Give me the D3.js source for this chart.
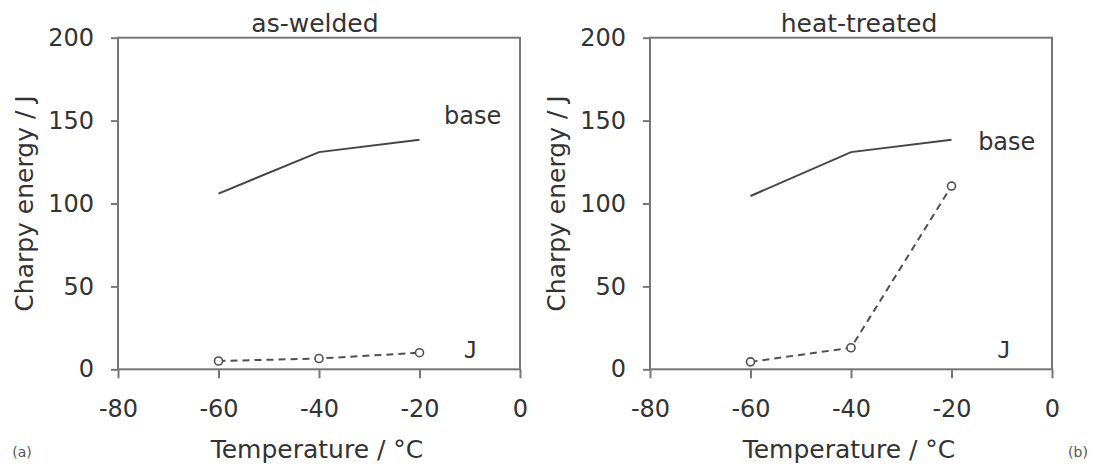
<!DOCTYPE html>
<html>
<head>
<meta charset="utf-8">
<script src="https://cdn.jsdelivr.net/npm/d3@7"></script>
<style>
  html, body { margin: 0; padding: 0; background: #fff; }
  svg { display: block; font-family: "DejaVu Sans", Verdana, sans-serif; }
</style>
</head>
<body>
<svg id="chart" width="1095" height="464"></svg>
<script>
// Charpy impact energy versus test temperature
const temperatures = [-60, -40, -20];
const baseAsWelded = [106, 131, 138.5];
const jAsWelded = [5, 6.5, 10];
const baseHeatTreated = [104.5, 131, 138.5];
const jHeatTreated = [4.5, 13, 110.5];

const xTickValues = [-80, -60, -40, -20, 0];
const yTickValues = [0, 50, 100, 150, 200];

const panelTitles = ["as-welded", "heat-treated"];
const panelTags = ["(a)", "(b)"];
const xAxisTitle = "Temperature / °C";
const yAxisTitle = "Charpy energy / J";
const seriesNames = ["base", "J"];

// layout of the two panels
const panels = [
  { left: 118, title: panelTitles[0], tag: panelTags[0], base: baseAsWelded, j: jAsWelded,
    titleX: 315, baseLabel: [-15.1, 148.2], jLabel: [-11.2, 6.8], tagX: 22 },
  { left: 650, title: panelTitles[1], tag: panelTags[1], base: baseHeatTreated, j: jHeatTreated,
    titleX: 859, baseLabel: [-14.7, 132.1], jLabel: [-10.9, 6.8], tagX: 1078 }
];
const plotTop = 37.7, plotBottom = 369.3, plotWidth = 402;

const textColor = "#333";
const frameColor = "#777";
const plainNumber = d => String(d);   // keeps an ASCII hyphen for negatives

const svg = d3.select("#chart");

panels.forEach(p => {
  const x = d3.scaleLinear().domain([-80, 0]).range([p.left, p.left + plotWidth]);
  const y = d3.scaleLinear().domain([0, 200]).range([plotBottom, plotTop]);
  const g = svg.append("g");

  // plot frame
  g.append("rect")
    .attr("x", p.left).attr("y", plotTop)
    .attr("width", plotWidth).attr("height", plotBottom - plotTop)
    .attr("fill", "none").attr("stroke", frameColor).attr("stroke-width", 2);

  // x axis
  const xa = g.append("g").attr("transform", `translate(0,${plotBottom})`)
    .call(d3.axisBottom(x).tickValues(xTickValues).tickSize(9).tickPadding(22)
      .tickFormat(plainNumber));
  xa.select(".domain").remove();
  xa.selectAll(".tick line").attr("stroke", frameColor).attr("stroke-width", 2);
  xa.selectAll(".tick text").attr("fill", textColor)
    .style("font-size", "24px").style("font-family", "DejaVu Sans, Verdana, sans-serif");

  // y axis
  const ya = g.append("g").attr("transform", `translate(${p.left},0)`)
    .call(d3.axisLeft(y).tickValues(yTickValues).tickSize(7).tickPadding(17)
      .tickFormat(plainNumber));
  ya.select(".domain").remove();
  ya.selectAll(".tick line").attr("stroke", frameColor).attr("stroke-width", 2);
  ya.selectAll(".tick text").attr("fill", textColor)
    .style("font-size", "24px").style("font-family", "DejaVu Sans, Verdana, sans-serif");

  const line = d3.line().x((d, i) => x(temperatures[i])).y(d => y(d));

  // base metal curve
  g.append("path").datum(p.base)
    .attr("d", line).attr("fill", "none")
    .attr("stroke", "#454545").attr("stroke-width", 2);

  // J curve, dashed with open circles
  g.append("path").datum(p.j)
    .attr("d", line).attr("fill", "none")
    .attr("stroke", "#505050").attr("stroke-width", 2)
    .attr("stroke-dasharray", "7,5");
  g.selectAll("circle.j").data(p.j).enter().append("circle")
    .attr("class", "j")
    .attr("cx", (d, i) => x(temperatures[i])).attr("cy", d => y(d))
    .attr("r", 4).attr("fill", "#fff")
    .attr("stroke", "#505050").attr("stroke-width", 1.6);

  // series labels
  g.append("text")
    .attr("x", x(p.baseLabel[0])).attr("y", y(p.baseLabel[1]))
    .attr("fill", textColor).style("font-size", "24px")
    .text(seriesNames[0]);
  g.append("text")
    .attr("x", x(p.jLabel[0])).attr("y", y(p.jLabel[1]))
    .attr("fill", textColor).style("font-size", "23px")
    .style("font-family", "DejaVu Sans Mono, monospace")
    .text(seriesNames[1]);

  // panel title
  g.append("text")
    .attr("x", p.titleX).attr("y", 31.5)
    .attr("text-anchor", "middle").attr("fill", textColor)
    .style("font-size", "25px")
    .text(p.title);

  // axis titles
  g.append("text")
    .attr("x", p.left + plotWidth / 2 - 2).attr("y", 458)
    .attr("text-anchor", "middle").attr("fill", textColor)
    .style("font-size", "25px")
    .text(xAxisTitle);
  g.append("text")
    .attr("transform", `translate(${p.left - 85.5},${(plotTop + plotBottom) / 2}) rotate(-90)`)
    .attr("text-anchor", "middle").attr("fill", textColor)
    .style("font-size", "25px")
    .text(yAxisTitle);

  // panel tag
  g.append("text")
    .attr("x", p.tagX).attr("y", 457)
    .attr("text-anchor", "middle").attr("fill", "#555")
    .style("font-size", "14px")
    .text(p.tag);
});
</script>
</body>
</html>
